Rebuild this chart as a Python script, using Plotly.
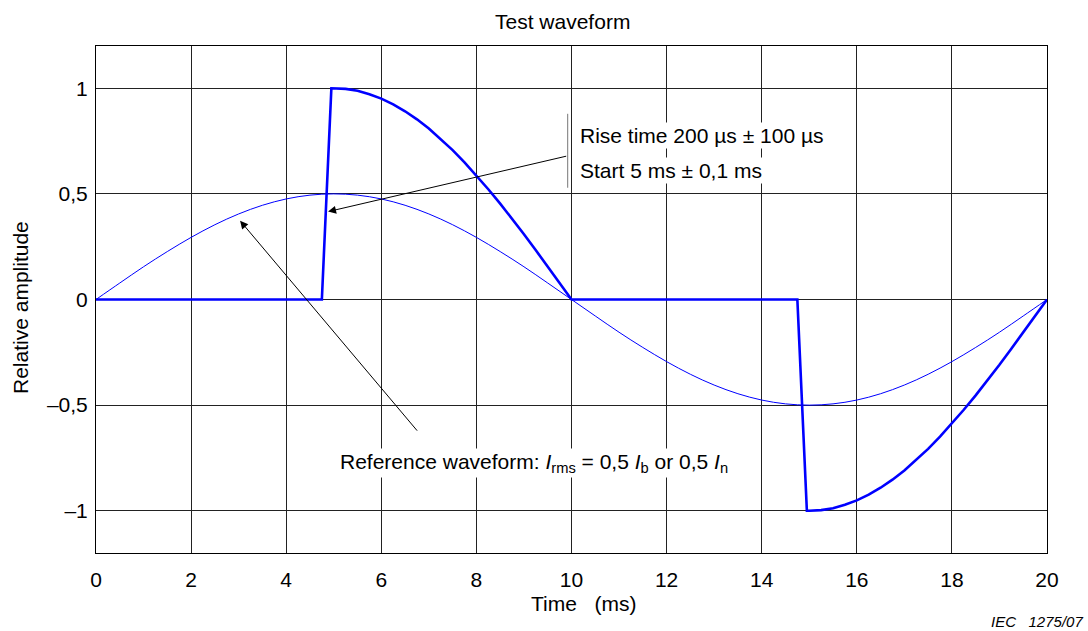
import plotly.graph_objects as go

# Reference waveform (thin line), read every 0.5 ms
ref_t = [0, 0.5, 1, 1.5, 2, 2.5, 3, 3.5, 4, 4.5, 5, 5.5, 6, 6.5, 7, 7.5, 8, 8.5, 9, 9.5,
         10, 10.5, 11, 11.5, 12, 12.5, 13, 13.5, 14, 14.5, 15, 15.5, 16, 16.5, 17, 17.5,
         18, 18.5, 19, 19.5, 20]
ref_v = [0, 0.078, 0.155, 0.227, 0.294, 0.354, 0.405, 0.446, 0.476, 0.494, 0.500, 0.494,
         0.476, 0.446, 0.405, 0.354, 0.294, 0.227, 0.155, 0.078, 0, -0.078, -0.155, -0.227,
         -0.294, -0.354, -0.405, -0.446, -0.476, -0.494, -0.500, -0.494, -0.476, -0.446,
         -0.405, -0.354, -0.294, -0.227, -0.155, -0.078, 0]

# Test waveform (thick line)
test_t = [0, 4.75, 4.95, 5.0, 5.25, 5.5, 5.75, 6, 6.25, 6.5, 6.75, 7, 7.25, 7.5, 7.75,
          8, 8.25, 8.5, 8.75, 9, 9.25, 9.5, 9.75, 10,
          14.75, 14.95, 15.0, 15.25, 15.5, 15.75, 16, 16.25, 16.5, 16.75, 17, 17.25, 17.5,
          17.75, 18, 18.25, 18.5, 18.75, 19, 19.25, 19.5, 19.75, 20]
test_v = [0, 0, 1.0, 1.0, 0.997, 0.988, 0.972, 0.951, 0.924, 0.891, 0.853, 0.809, 0.760,
          0.707, 0.649, 0.588, 0.522, 0.454, 0.383, 0.309, 0.233, 0.156, 0.078, 0,
          0, -1.0, -1.0, -0.997, -0.988, -0.972, -0.951, -0.924, -0.891, -0.853, -0.809,
          -0.760, -0.707, -0.649, -0.588, -0.522, -0.454, -0.383, -0.309, -0.233, -0.156,
          -0.078, 0]

x_ticks = [0, 2, 4, 6, 8, 10, 12, 14, 16, 18, 20]
y_tickvals = [-1, -0.5, 0, 0.5, 1]
y_ticktext = ["–1", "–0,5", "0", "0,5", "1"]

FONT = "Liberation Sans, Arial, sans-serif"
FS = 21

fig = go.Figure()
fig.add_trace(go.Scatter(x=ref_t, y=ref_v, mode="lines", line_shape="spline",
                         line=dict(color="#0000FF", width=1), showlegend=False))
fig.add_trace(go.Scatter(x=test_t, y=test_v, mode="lines",
                         line=dict(color="#0000FF", width=2.6), showlegend=False))

annotations = [
    # arrows
    dict(x=4.88, y=0.416, ax=9.92, ay=0.68, xref="x", yref="y", axref="x", ayref="y",
         text="", showarrow=True, arrowhead=2, arrowsize=1.6, arrowwidth=1, arrowcolor="black"),
    dict(x=3.03, y=0.373, ax=6.78, ay=-0.628, xref="x", yref="y", axref="x", ayref="y",
         text="", showarrow=True, arrowhead=2, arrowsize=1.6, arrowwidth=1, arrowcolor="black"),
    # text labels
    dict(x=10.14, y=0.775, xref="x", yref="y", xanchor="left", yanchor="middle",
         text="Rise time 200 µs ± 100 µs", showarrow=False, bgcolor="white",
         font=dict(family=FONT, size=FS, color="black")),
    dict(x=10.14, y=0.609, xref="x", yref="y", xanchor="left", yanchor="middle",
         text="Start 5 ms ± 0,1 ms", showarrow=False, bgcolor="white",
         font=dict(family=FONT, size=FS, color="black")),
    dict(x=9.21, y=-0.775, xref="x", yref="y", xanchor="center", yanchor="middle",
         text="Reference waveform: <i>I</i><sub>rms</sub> = 0,5 <i>I</i><sub>b</sub> or 0,5 <i>I</i><sub>n</sub>",
         showarrow=False, bgcolor="white",
         font=dict(family=FONT, size=FS, color="black")),
    # titles
    dict(x=562, y=631 - 22, xref="paper", yref="paper", text="Test waveform", showarrow=False,
         xanchor="center", yanchor="middle",
         font=dict(family=FONT, size=FS, color="black")),
    dict(x=583, y=631 - 603, xref="paper", yref="paper", text="Time   (ms)", showarrow=False,
         xanchor="center", yanchor="middle",
         font=dict(family=FONT, size=FS, color="black")),
    dict(x=20, y=631 - 308, xref="paper", yref="paper", text="Relative amplitude",
         showarrow=False, textangle=-90, xanchor="center", yanchor="middle",
         font=dict(family=FONT, size=FS, color="black")),
    dict(x=1085, y=631 - 621, xref="paper", yref="paper", xanchor="right", yanchor="middle",
         text="<i>IEC   1275/07</i>", showarrow=False,
         font=dict(family=FONT, size=15, color="black")),
]
# convert pixel-positioned paper annotations
L, R, T, B = 96, 41, 46, 78
pw, ph = 1088 - L - R, 631 - T - B
for a in annotations:
    if a.get("xref") == "paper":
        a["x"] = (a["x"] - L) / pw
        a["y"] = (a["y"] - B) / ph

fig.update_layout(
    width=1088, height=631,
    margin=dict(l=L, r=R, t=T, b=B),
    paper_bgcolor="white", plot_bgcolor="white",
    font=dict(family=FONT, size=FS, color="black"),
    annotations=annotations,
    shapes=[dict(type="line", xref="x", yref="y", x0=9.92, x1=9.92, y0=0.529, y1=0.879,
                 line=dict(color="#777777", width=1))],
    xaxis=dict(range=[0, 20], tickvals=x_ticks, showgrid=True, gridcolor="#222222",
               gridwidth=1, zeroline=False, showline=True, linecolor="black", linewidth=1,
               mirror=True, ticks="", ticklabelstandoff=8,
               tickfont=dict(family=FONT, size=FS, color="black")),
    yaxis=dict(range=[-1.2, 1.2], tickvals=y_tickvals, ticktext=y_ticktext, showgrid=True,
               gridcolor="#222222", gridwidth=1, zeroline=False, showline=True,
               linecolor="black", linewidth=1, mirror=True, ticks="", ticklabelstandoff=3,
               tickfont=dict(family=FONT, size=FS, color="black")),
)

fig.write_html("out.html")
